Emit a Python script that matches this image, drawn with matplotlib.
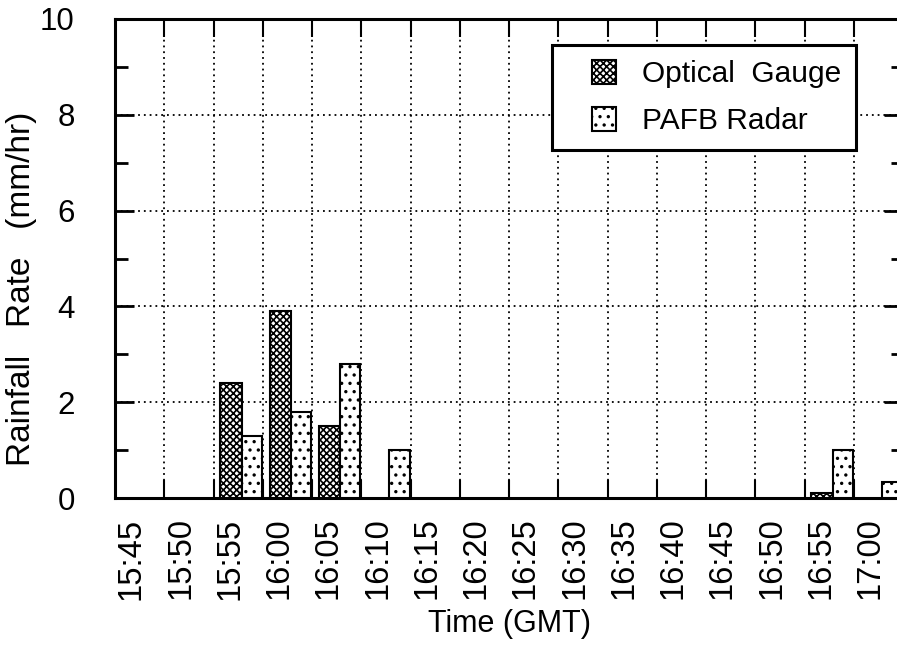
import matplotlib
matplotlib.use("Agg")
import matplotlib.pyplot as plt
from matplotlib.patches import Rectangle
from matplotlib.legend_handler import HandlerPatch
from matplotlib.ticker import FixedLocator, MultipleLocator, NullFormatter

times = ["15:45", "15:50", "15:55", "16:00", "16:05", "16:10", "16:15", "16:20",
         "16:25", "16:30", "16:35", "16:40", "16:45", "16:50", "16:55", "17:00"]
optical_gauge = [0, 0, 2.4, 3.9, 1.5, 0, 0, 0, 0, 0, 0, 0, 0, 0, 0.1, 0]
pafb_radar = [0, 0, 1.3, 1.8, 2.8, 1.0, 0, 0, 0, 0, 0, 0, 0, 0, 1.0, 0.33]
y_ticks = [0, 2, 4, 6, 8, 10]

plt.rcParams["font.family"] = ["Liberation Sans", "DejaVu Sans"]
plt.rcParams["hatch.linewidth"] = 1.2
plt.rcParams["hatch.color"] = "black"

W, H = 897, 645
fig = plt.figure(figsize=(W / 100, H / 100), dpi=100)
left, right, top, bottom = 115, 903, 19, 498
ax = fig.add_axes([left / W, (H - bottom) / H, (right - left) / W, (bottom - top) / H])

n = len(times)
idx = list(range(n))
off_g, w_g = 0.14, 0.43
off_r, w_r = 0.57, 0.41

bars_g = ax.bar([i + off_g for i in idx], optical_gauge, width=w_g, align="edge",
                facecolor="white", edgecolor="black", linewidth=1.5, hatch="xxxxx",
                label="Optical Gauge", zorder=3)
bars_r = ax.bar([i + off_r for i in idx], pafb_radar, width=w_r, align="edge",
                facecolor="white", edgecolor="black", linewidth=1.5, hatch="..",
                label="PAFB Radar", zorder=3)
for b, v in zip(bars_g, optical_gauge):
    b.set_visible(v > 0)
for b, v in zip(bars_r, pafb_radar):
    b.set_visible(v > 0)

ax.set_xlim(0, n)
ax.set_ylim(0, 10)

# category boundaries carry the grid and ticks; labels sit inside each slot
ax.xaxis.set_major_locator(FixedLocator(list(range(1, n))))
ax.xaxis.set_major_formatter(NullFormatter())
ax.xaxis.set_minor_locator(FixedLocator([i + 0.33 for i in idx]))
ax.set_xticklabels(times, minor=True, rotation=90, fontsize=23.5)
ax.tick_params(axis="x", which="major", direction="in", length=13, width=1.5,
               top=True, bottom=True)
ax.tick_params(axis="x", which="minor", length=0, pad=14)

ax.yaxis.set_major_locator(FixedLocator(y_ticks))
ax.set_yticklabels([str(v) for v in y_ticks], fontsize=22.5)
ax.yaxis.set_minor_locator(MultipleLocator(1))
ax.tick_params(axis="y", which="major", direction="in", length=14, width=2,
               left=True, right=True, pad=29)
ax.tick_params(axis="y", which="minor", direction="in", length=9, width=2,
               left=True, right=True)

ax.grid(True, which="major", color="black", linestyle=(0, (1, 2.2)), linewidth=1.3, zorder=1)
ax.set_axisbelow(True)
for s in ax.spines.values():
    s.set_linewidth(2.2)

ax.set_xlabel("Time (GMT)", fontsize=22, labelpad=7)
ax.set_ylabel("Rainfall   Rate   (mm/hr)", fontsize=24)
ax.yaxis.set_label_coords(-0.099, 0.437)


def square_handle(legend, orig_handle, xdescent, ydescent, width, height, fontsize):
    side = 0.8 * fontsize
    return Rectangle((width - side - xdescent, -ydescent + (height - side) / 2), side, side)


fs = 21.5
handle_g = bars_g.patches[2]
handle_r = bars_r.patches[2]
leg = ax.legend([handle_g, handle_r], ["Optical  Gauge", "PAFB Radar"], loc="upper left",
                bbox_to_anchor=((552 - left) / (right - left), 1 - (45 - top) / (bottom - top)),
                borderaxespad=0, fontsize=fs, frameon=True, fancybox=False,
                edgecolor="black", framealpha=1, borderpad=0.5, handlelength=1.65,
                handleheight=0.85, handletextpad=0.85, labelspacing=0.62,
                handler_map={Rectangle: HandlerPatch(patch_func=square_handle)})
leg.get_frame().set_linewidth(2.2)
leg.set_zorder(5)

fig.savefig("out.png", dpi=100)
